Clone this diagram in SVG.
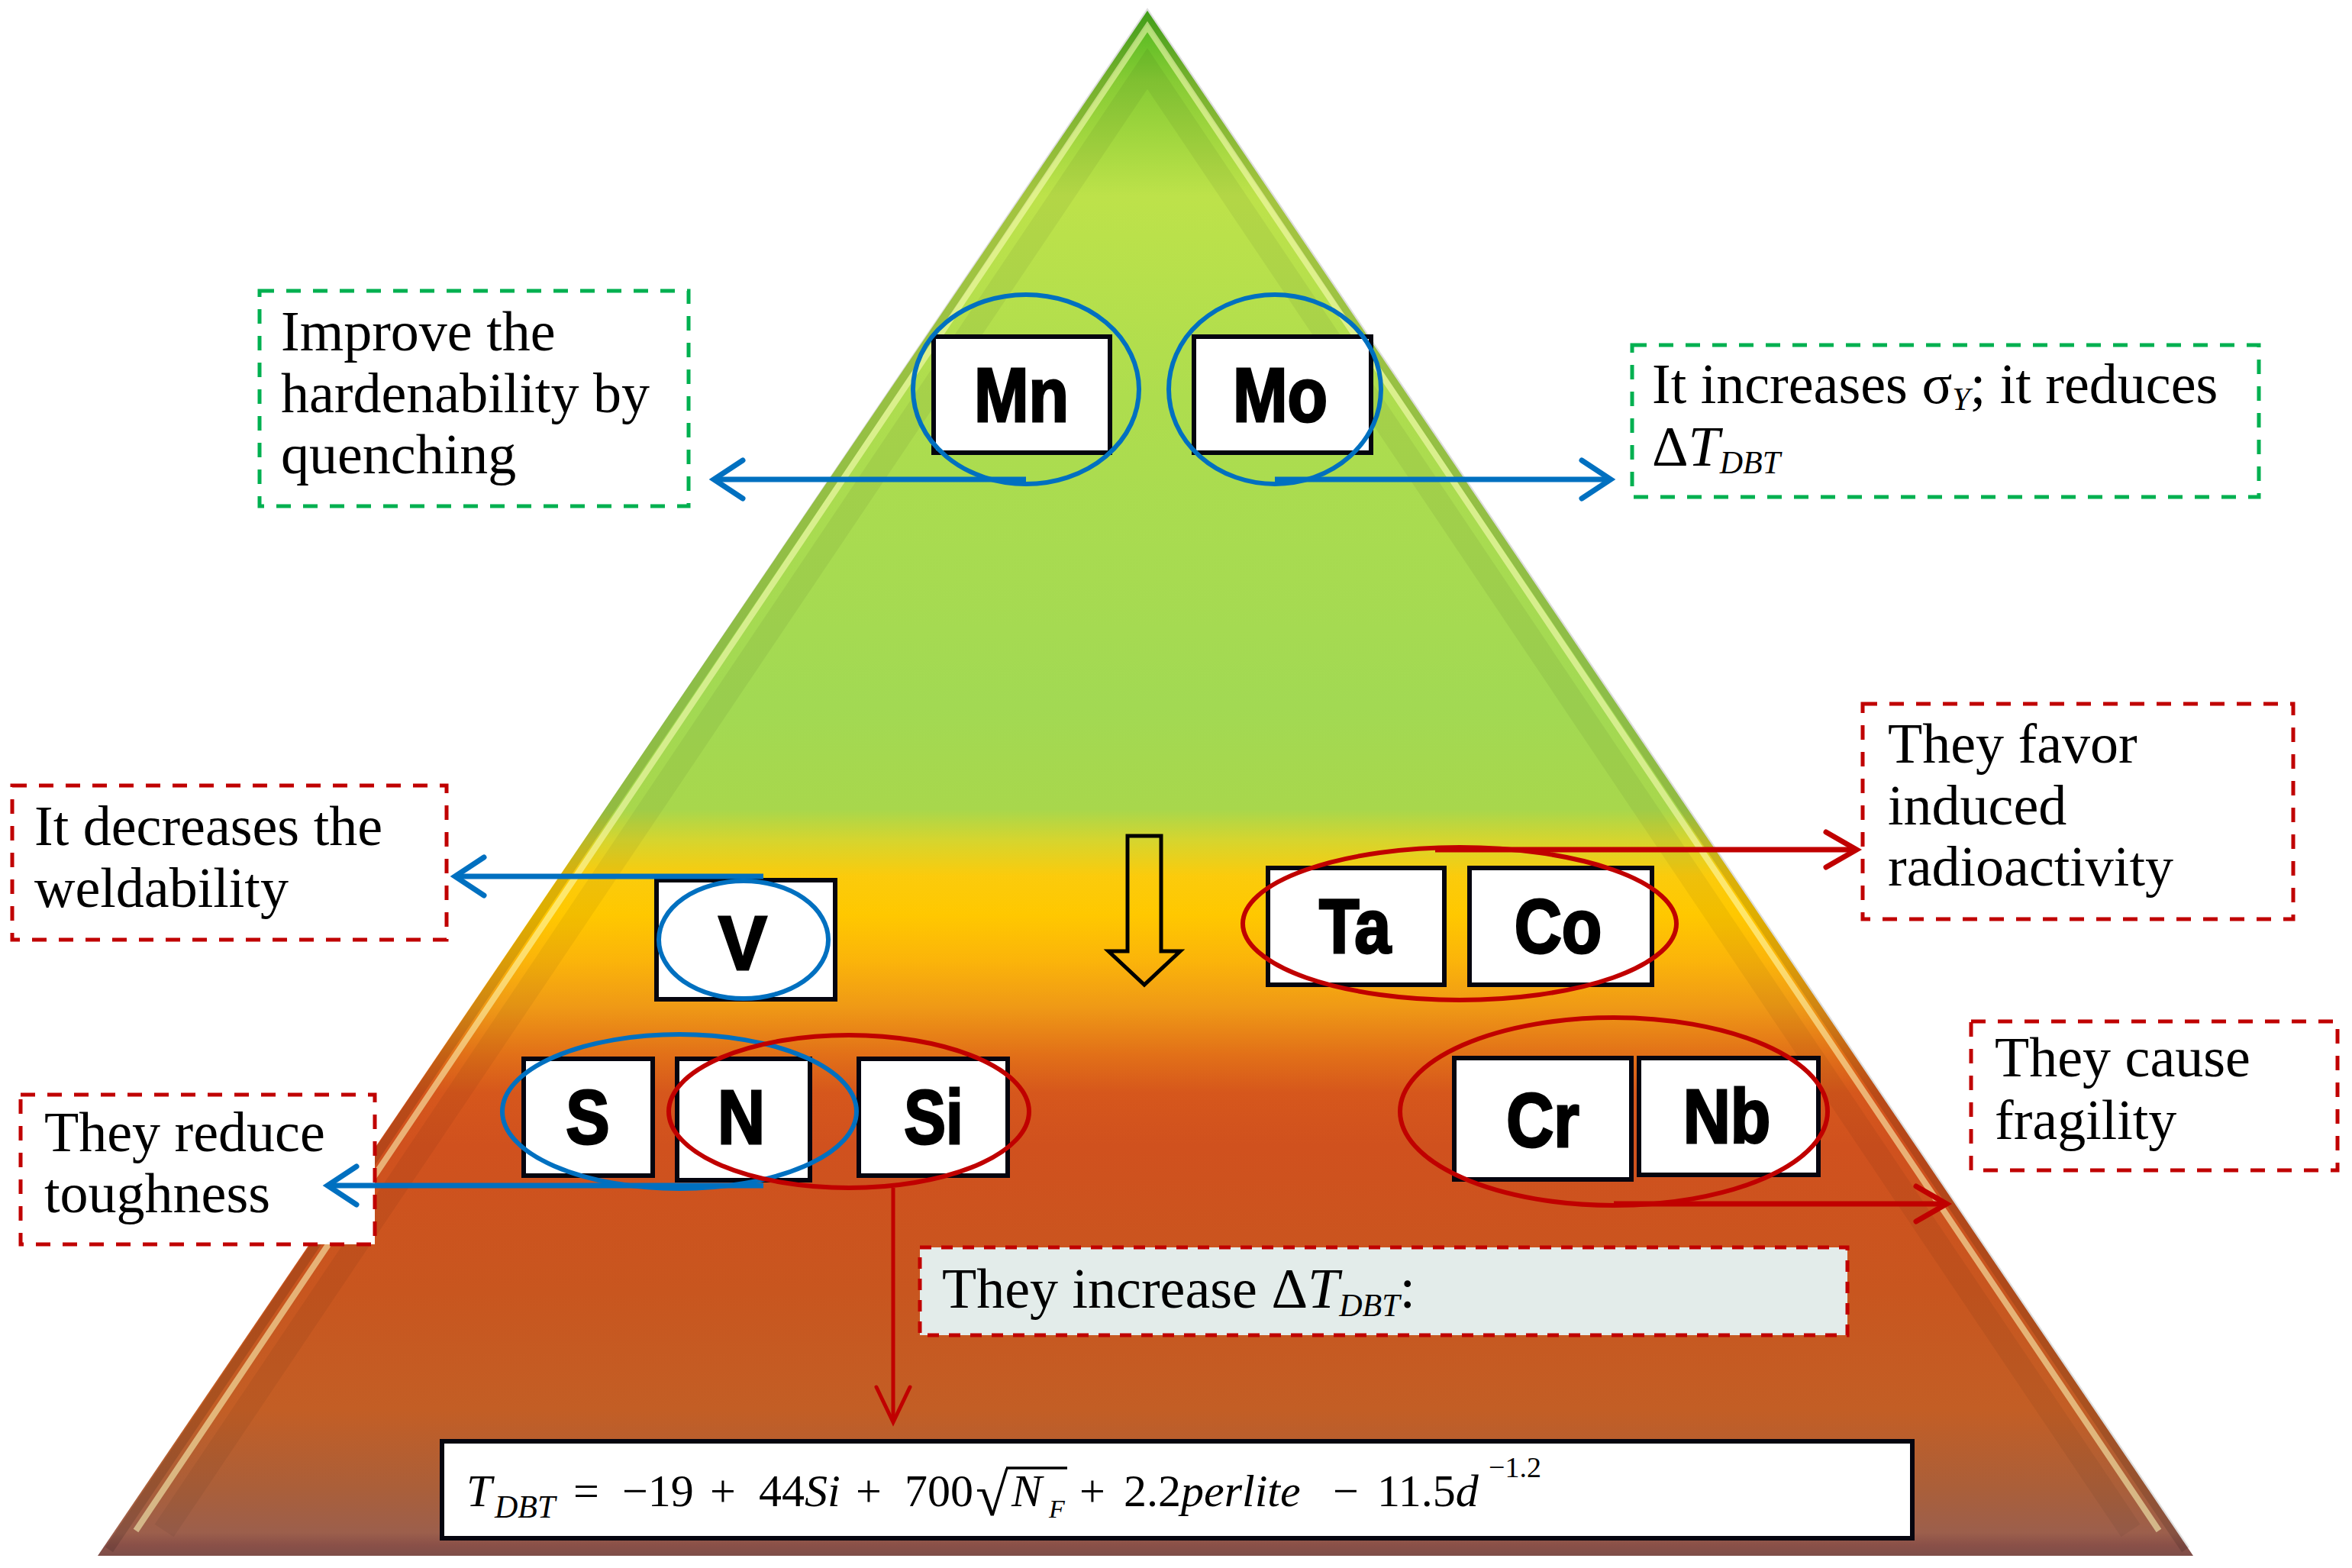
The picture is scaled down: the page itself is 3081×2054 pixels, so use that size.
<svg xmlns="http://www.w3.org/2000/svg" width="3081" height="2054" viewBox="0 0 3081 2054">
  <defs>
    <linearGradient id="pyrGrad" gradientUnits="userSpaceOnUse" x1="0" y1="14" x2="0" y2="2038">
      <stop offset="0" stop-color="#4cb61e"/>
      <stop offset="0.045" stop-color="#86cb34"/>
      <stop offset="0.12" stop-color="#bde24a"/>
      <stop offset="0.25" stop-color="#aedd4e"/>
      <stop offset="0.45" stop-color="#a2d953"/>
      <stop offset="0.517" stop-color="#a8d74c"/>
      <stop offset="0.537" stop-color="#d6d52e"/>
      <stop offset="0.56" stop-color="#fbcb0c"/>
      <stop offset="0.585" stop-color="#ffc800"/>
      <stop offset="0.615" stop-color="#fbb40a"/>
      <stop offset="0.645" stop-color="#ef9916"/>
      <stop offset="0.675" stop-color="#e27118"/>
      <stop offset="0.7" stop-color="#d6571c"/>
      <stop offset="0.735" stop-color="#d0511e"/>
      <stop offset="0.83" stop-color="#c8561f"/>
      <stop offset="0.905" stop-color="#c35e25"/>
      <stop offset="0.955" stop-color="#ab5f39"/>
      <stop offset="0.985" stop-color="#9c5f4c"/>
      <stop offset="0.993" stop-color="#8a5048"/>
      <stop offset="1" stop-color="#7e4e48"/>
    </linearGradient>
    <marker id="arrowBlue" markerUnits="userSpaceOnUse" viewBox="-50 -30 60 60" refX="0" refY="0" markerWidth="60" markerHeight="60" orient="auto" overflow="visible">
      <path d="M-38,-25 L0,0 L-38,25" fill="none" stroke="#0070c0" stroke-width="7" stroke-linecap="round"/>
    </marker>
    <marker id="arrowRed" markerUnits="userSpaceOnUse" viewBox="-50 -30 60 60" refX="0" refY="0" markerWidth="60" markerHeight="60" orient="auto" overflow="visible">
      <path d="M-40,-23 L0,0 L-40,23" fill="none" stroke="#c00000" stroke-width="7" stroke-linecap="round"/>
    </marker>
    <marker id="arrowRedThin" markerUnits="userSpaceOnUse" viewBox="-50 -30 60 60" refX="0" refY="0" markerWidth="60" markerHeight="60" orient="auto" overflow="visible">
      <path d="M-46,-22 L0,0 L-46,22" fill="none" stroke="#c00000" stroke-width="5" stroke-linecap="round"/>
    </marker>
    <style>
      .lbl { font-family: "Liberation Serif", "DejaVu Serif", serif; font-size: 74px; fill: #000; }
      .it { font-style: italic; }
      .sub { font-size: 42px; font-style: italic; }
      .gbox { fill: #ffffff; stroke: #00b050; stroke-width: 5; stroke-dasharray: 19 16; }
      .rbox { fill: #ffffff; stroke: #c00000; stroke-width: 5; stroke-dasharray: 19 16; }
      .graybox { fill: #e3ecea; stroke: #c00000; stroke-width: 5; stroke-dasharray: 15 13; }
      .elbox { fill: #ffffff; stroke: #05050f; stroke-width: 6; }
      .el { font-family: "Liberation Sans", Arial, sans-serif; font-weight: bold; font-size: 100px; fill: #000; stroke: #000; stroke-width: 3; text-anchor: middle; }
      .ringB { fill: none; stroke: #0070c0; stroke-width: 6; }
      .ringR { fill: none; stroke: #c00000; stroke-width: 6; }
      .cB { fill: none; stroke: #0070c0; stroke-width: 7; marker-end: url(#arrowBlue); }
      .cR { fill: none; stroke: #c00000; stroke-width: 7; marker-end: url(#arrowRed); }
      .cRt { fill: none; stroke: #c00000; stroke-width: 5; marker-end: url(#arrowRedThin); }
      .fx { font-family: "Liberation Serif", "DejaVu Serif", serif; font-size: 60px; fill: #000; }
    </style>
  </defs>

  <rect x="0" y="0" width="3081" height="2054" fill="#ffffff"/>

  <g id="pyramid">
    <polygon points="1503,14 2873,2038 128,2038" fill="url(#pyrGrad)"/>
    <polyline points="143,2030 1503,21 2863,2030" fill="none" stroke="#000000" stroke-opacity="0.13" stroke-width="12" stroke-linejoin="miter"/>
    <polyline points="178,2005 1503,35 2828,2005" fill="none" stroke="#ffffc0" stroke-opacity="0.55" stroke-width="8" stroke-linejoin="miter"/>
    <polyline points="215,2005 1503,90 2791,2005" fill="none" stroke="#000000" stroke-opacity="0.05" stroke-width="30"/>
    <path d="M1477,1095 L1521,1095 L1521,1246 L1546,1246 L1499,1290 L1452,1246 L1477,1246 Z" fill="none" stroke="#000000" stroke-width="5"/>
  </g>

  <g id="node-Mn"><rect class="elbox" x="1223" y="441" width="231" height="152"/><text class="el" transform="translate(1338,552) scale(0.86,1)">Mn</text></g>
  <g id="node-Mo"><rect class="elbox" x="1564" y="441" width="232" height="152"/><text class="el" transform="translate(1677,552) scale(0.86,1)">Mo</text></g>
  <g id="node-V"><rect class="elbox" x="860" y="1153" width="234" height="156"/><text class="el" transform="translate(973,1270) scale(0.95,1)">V</text></g>
  <g id="node-Ta"><rect class="elbox" x="1661" y="1137" width="231" height="153"/><text class="el" transform="translate(1775,1248) scale(0.86,1)">Ta</text></g>
  <g id="node-Co"><rect class="elbox" x="1925" y="1137" width="239" height="153"/><text class="el" transform="translate(2041,1248) scale(0.86,1)">Co</text></g>
  <g id="node-S"><rect class="elbox" x="686" y="1387" width="169" height="153"/><text class="el" transform="translate(770,1498) scale(0.86,1)">S</text></g>
  <g id="node-N"><rect class="elbox" x="887" y="1387" width="174" height="159"/><text class="el" transform="translate(971,1498) scale(0.86,1)">N</text></g>
  <g id="node-Si"><rect class="elbox" x="1125" y="1387" width="195" height="153"/><text class="el" transform="translate(1223,1498) scale(0.82,1)">Si</text></g>
  <g id="node-Cr"><rect class="elbox" x="1905" y="1386" width="232" height="159"/><text class="el" transform="translate(2021,1502) scale(0.86,1)">Cr</text></g>
  <g id="node-Nb"><rect class="elbox" x="2147" y="1386" width="235" height="153"/><text class="el" transform="translate(2262,1497) scale(0.86,1)">Nb</text></g>

  <g id="highlights">
    <ellipse class="ringB" cx="1344" cy="510" rx="148" ry="124"/>
    <ellipse class="ringB" cx="1670" cy="510" rx="139" ry="124"/>
    <ellipse class="ringB" cx="974" cy="1231" rx="111" ry="77"/>
    <ellipse class="ringB" cx="890" cy="1456" rx="232" ry="101"/>
    <ellipse class="ringR" cx="1112" cy="1456" rx="236" ry="100"/>
    <ellipse class="ringR" cx="1912" cy="1210" rx="284" ry="100"/>
    <ellipse class="ringR" cx="2114" cy="1456" rx="280" ry="123"/>
  </g>

  <g id="box-hardenability">
    <rect class="gbox" x="340" y="381" width="562" height="282"/>
    <text class="lbl"><tspan x="368" y="459">Improve the</tspan><tspan x="368" y="540">hardenability by</tspan><tspan x="368" y="620">quenching</tspan></text>
  </g>

  <g id="box-sigma">
    <rect class="gbox" x="2138" y="452" width="821" height="199"/>
    <text class="lbl"><tspan x="2164" y="528">It increases σ</tspan><tspan class="sub" dy="9">Y</tspan><tspan dy="-9">; it reduces</tspan><tspan x="2164" y="610">Δ</tspan><tspan class="it">T</tspan><tspan class="sub" dy="10">DBT</tspan></text>
  </g>

  <g id="box-weldability">
    <rect class="rbox" x="16" y="1029" width="569" height="202"/>
    <text class="lbl"><tspan x="45" y="1107">It decreases the</tspan><tspan x="45" y="1188">weldability</tspan></text>
  </g>

  <g id="box-radioactivity">
    <rect class="rbox" x="2440" y="922" width="564" height="282"/>
    <text class="lbl"><tspan x="2473" y="999">They favor</tspan><tspan x="2473" y="1080">induced</tspan><tspan x="2473" y="1160">radioactivity</tspan></text>
  </g>

  <g id="box-toughness">
    <rect class="rbox" x="27" y="1434" width="464" height="196"/>
    <text class="lbl"><tspan x="58" y="1508">They reduce</tspan><tspan x="58" y="1588">toughness</tspan></text>
  </g>

  <g id="box-fragility">
    <rect class="rbox" x="2582" y="1338" width="480" height="195"/>
    <text class="lbl"><tspan x="2613" y="1410">They cause</tspan><tspan x="2613" y="1492">fragility</tspan></text>
  </g>

  <g id="box-increase">
    <rect class="graybox" x="1205" y="1634" width="1215" height="115"/>
    <text class="lbl"><tspan x="1234" y="1713">They increase Δ</tspan><tspan class="it">T</tspan><tspan class="sub" dy="11">DBT</tspan><tspan dy="-11">:</tspan></text>
  </g>

  <g id="box-formula">
    <rect x="579" y="1888" width="1926" height="127" fill="#ffffff" stroke="#05050f" stroke-width="6"/>
    <text class="fx"><tspan x="611" y="1973" class="it">T</tspan><tspan class="it" font-size="42" x="648" y="1988">DBT</tspan><tspan x="751" y="1973">=</tspan><tspan x="815" y="1973">−19</tspan><tspan x="930" y="1973">+</tspan><tspan x="994" y="1973">44</tspan><tspan class="it">Si</tspan><tspan x="1121" y="1973">+</tspan><tspan x="1185" y="1973">700</tspan><tspan x="1278" y="1985" font-size="78">√</tspan><tspan x="1325" y="1973" class="it">N</tspan><tspan class="it" font-size="34" x="1374" y="1988">F</tspan><tspan x="1414" y="1973">+</tspan><tspan x="1472" y="1973">2.2</tspan><tspan class="it">perlite</tspan><tspan x="1746" y="1973">−</tspan><tspan x="1804" y="1973">11.5</tspan><tspan class="it">d</tspan><tspan font-size="38" x="1950" y="1935">−1.2</tspan></text>
    <line x1="1318" y1="1923" x2="1398" y2="1923" stroke="#000" stroke-width="3.5"/>
  </g>

  <g id="connectors">
    <path class="cB" d="M1344,628 L935,628"/>
    <path class="cB" d="M1670,628 L2110,628"/>
    <path class="cB" d="M1000,1148 L596,1148"/>
    <path class="cB" d="M1000,1553 L429,1553"/>
    <path class="cR" d="M1880,1113 L2432,1113"/>
    <path class="cR" d="M2114,1577 L2550,1577"/>
    <path class="cRt" d="M1170,1556 L1170,1863"/>
  </g>
</svg>
